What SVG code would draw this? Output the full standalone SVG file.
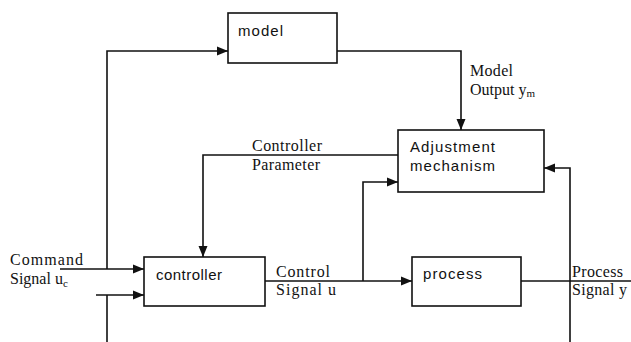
<svg xmlns="http://www.w3.org/2000/svg" width="631" height="342" viewBox="0 0 631 342">
<defs>
<style>
.box{fill:#fff;stroke:#111;stroke-width:1.6}
.ln{fill:none;stroke:#111;stroke-width:1.6}
.sans{font-family:"Liberation Sans",Arial,sans-serif;font-size:15px;fill:#111}
.ser{font-family:"Liberation Serif","Times New Roman",serif;font-size:16px;fill:#111}
</style>
<marker id="ar" markerUnits="userSpaceOnUse" markerWidth="12" markerHeight="10" refX="11" refY="5" orient="auto">
<path d="M0,0.5 L11,5 L0,9.5 z" fill="#111"/>
</marker>
</defs>
<rect width="631" height="342" fill="#fff"/>
<g id="connectors">
<path class="ln" d="M107,342 V295"/>
<path class="ln" d="M96,295 H144" marker-end="url(#ar)"/>
<path class="ln" d="M107,269 V51 H228" marker-end="url(#ar)"/>
<path class="ln" d="M60,269 H144" marker-end="url(#ar)"/>
<path class="ln" d="M337,51 H461 V130" marker-end="url(#ar)"/>
<path class="ln" d="M398,155 H203 V257" marker-end="url(#ar)"/>
<path class="ln" d="M265,281 H412" marker-end="url(#ar)"/>
<path class="ln" d="M363,281 V182 H398" marker-end="url(#ar)"/>
<path class="ln" d="M521,281 H631"/>
<path class="ln" d="M570,342 V168 H544" marker-end="url(#ar)"/>
</g>
<g id="model">
<rect class="box" x="228" y="13" width="109" height="50"/>
<text class="sans" x="238" y="36" textLength="45">model</text>
</g>
<g id="adjustment">
<rect class="box" x="398" y="130" width="146" height="62"/>
<text class="sans" x="410" y="152" textLength="85">Adjustment</text>
<text class="sans" x="410" y="171" textLength="85">mechanism</text>
</g>
<g id="controller">
<rect class="box" x="144" y="257" width="121" height="49"/>
<text class="sans" x="156" y="280" textLength="66">controller</text>
</g>
<g id="process">
<rect class="box" x="412" y="257" width="109" height="49"/>
<text class="sans" x="423" y="279" textLength="59">process</text>
</g>
<g id="labels">
<text class="ser" x="10" y="265" textLength="73">Command</text>
<text class="ser" x="10" y="284">Signal u<tspan font-size="11" dy="3">c</tspan></text>
<text class="ser" x="276" y="277" textLength="54">Control</text>
<text class="ser" x="276" y="295" textLength="60">Signal u</text>
<text class="ser" x="572" y="277" textLength="51">Process</text>
<text class="ser" x="572" y="295" textLength="55">Signal y</text>
<text class="ser" x="252" y="151" textLength="70">Controller</text>
<text class="ser" x="252" y="170" textLength="68">Parameter</text>
<text class="ser" x="470" y="76" textLength="43">Model</text>
<text class="ser" x="470" y="95">Output y<tspan font-size="11" dy="2">m</tspan></text>
</g>
</svg>
